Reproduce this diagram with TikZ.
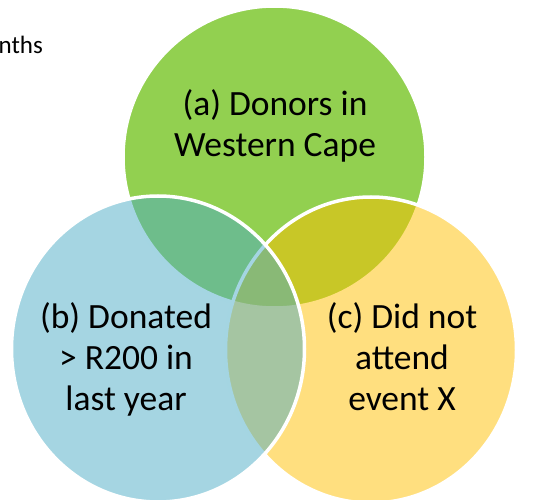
\documentclass[tikz,border=0pt]{standalone}
\usepackage{fontspec}
\setmainfont{Carlito}
\usetikzlibrary{shapes.geometric}
\definecolor{cgreen}{HTML}{92D050}
\definecolor{cyellow}{HTML}{FFC000}
\definecolor{cblue}{HTML}{4BACC6}
\tikzset{
  setshape/.style={ellipse, inner sep=0pt, draw=white, line width=3.5pt},
  settext/.style={align=center, font=\fontsize{35.5}{41}\selectfont, text=black, inner sep=0pt},
}
\begin{document}
\begin{tikzpicture}[x=1pt,y=-1pt]
\useasboundingbox (0,0) rectangle (544,500);
\node[setshape, fill=cgreen, minimum width=303pt, minimum height=302pt] (A) at (274.5,157) {};
\node[setshape, fill=cyellow, fill opacity=0.5, draw opacity=1, minimum width=291pt, minimum height=306pt] (C) at (371,350) {};
\node[setshape, fill=cblue, fill opacity=0.5, draw opacity=1, minimum width=293pt, minimum height=306pt] (B) at (158,349) {};
\node[settext, anchor=base] (ta) at (275,157) {(a) Donors in\\Western Cape};
\node[settext, anchor=base] (tb) at (126,410) {(b) Donated\\> R200 in\\last year};
\node[settext, anchor=base] (tc) at (402,410) {(c) Did not\\attend\\event X};
\node[anchor=base east, inner sep=0pt, font=\fontsize{25}{30}\selectfont] (tm) at (43,54) {nths};
\end{tikzpicture}
\end{document}
